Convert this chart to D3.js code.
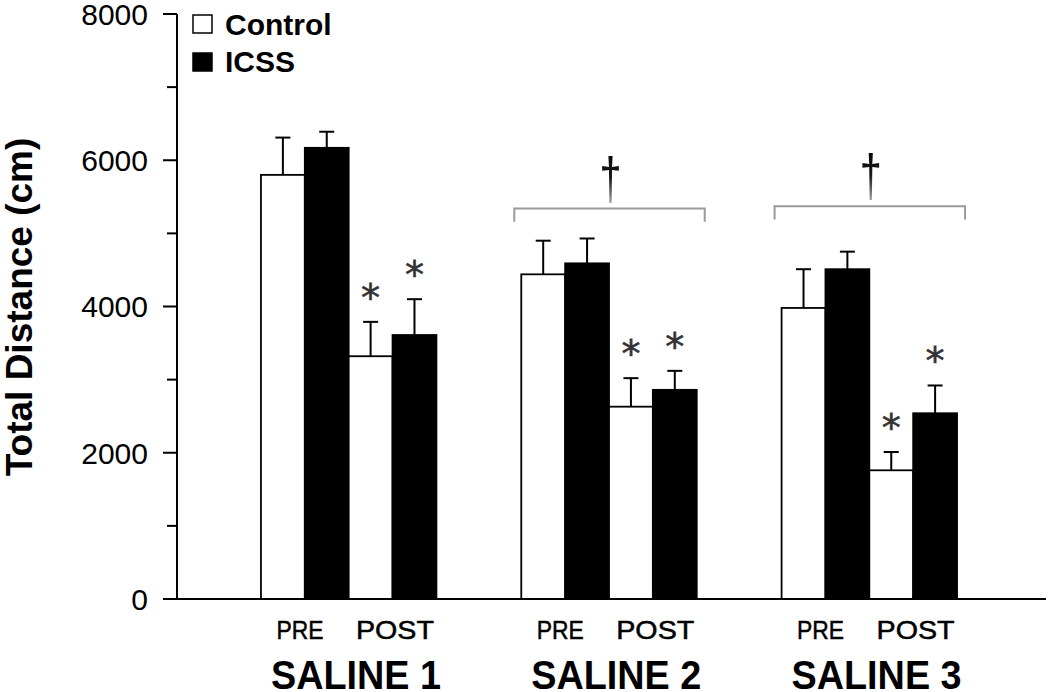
<!DOCTYPE html>
<html>
<head>
<meta charset="utf-8">
<script src="https://cdn.jsdelivr.net/npm/d3@7"></script>
<style>
  html, body { margin: 0; padding: 0; background: #fff; }
  svg { display: block; font-family: "Liberation Sans", Arial, sans-serif; }
</style>
</head>
<body>
<svg id="chart" width="1050" height="692"></svg>
<script>
// ---- data ----
const sessions = ["SALINE 1", "SALINE 2", "SALINE 3"];
const phases = ["PRE", "POST"];
const seriesNames = ["Control", "ICSS"];
// values per session: [PRE, POST]
const controlMean = [[5800, 3320], [4440, 2630], [3980, 1760]];
const controlErr  = [[510, 470], [460, 390], [530, 250]];
const icssMean    = [[6170, 3610], [4590, 2860], [4510, 2540]];
const icssErr     = [[220, 490], [340, 260], [240, 380]];
// significance vs PRE (asterisk) for [Control, ICSS] at POST
const postStar = [[true, true], [true, true], [true, true]];
// dagger bracket (value level) per session, null = none
const daggerLevel = [null, 5340, 5370];
const yTicks = [0, 2000, 4000, 6000, 8000];
const yMinorTicks = [1000, 3000, 5000, 7000];

// ---- layout ----
const svg = d3.select("#chart");
const x0 = 177, x1 = 1041, yBottom = 599, yTop = 14;

const y = d3.scaleLinear().domain([0, 8000]).range([yBottom, yTop]);
const xGroup = d3.scaleBand().domain(sessions).range([x0, x1])
  .paddingInner(0.326).paddingOuter(0.3225);
const slots = [];
phases.forEach(p => seriesNames.forEach(s => slots.push(p + "|" + s)));
const xSlot = d3.scaleBand().domain(slots).range([0, xGroup.bandwidth()]).padding(0);

// build bar records
const bars = [];
sessions.forEach((sess, gi) => {
  phases.forEach((ph, pi) => {
    bars.push({sess, ph, series: "Control", v: controlMean[gi][pi], e: controlErr[gi][pi],
               star: pi === 1 && postStar[gi][0]});
    bars.push({sess, ph, series: "ICSS", v: icssMean[gi][pi], e: icssErr[gi][pi],
               star: pi === 1 && postStar[gi][1]});
  });
});
const bx = d => xGroup(d.sess) + xSlot(d.ph + "|" + d.series);
const bw = xSlot.bandwidth();

// ---- defs (dagger gradient) ----
const defs = svg.append("defs");
const grad = defs.append("linearGradient").attr("id", "dagGrad")
  .attr("x1", 0).attr("y1", 0).attr("x2", 0).attr("y2", 1);
grad.append("stop").attr("offset", "0%").attr("stop-color", "#000");
grad.append("stop").attr("offset", "50%").attr("stop-color", "#1a1a1a");
grad.append("stop").attr("offset", "100%").attr("stop-color", "#d5d5d5");

// ---- bars ----
svg.append("g").selectAll("rect").data(bars).join("rect")
  .attr("x", d => bx(d))
  .attr("y", d => y(d.v))
  .attr("width", bw)
  .attr("height", d => y(0) - y(d.v))
  .attr("fill", d => d.series === "Control" ? "#fff" : "#000")
  .attr("stroke", "#000")
  .attr("stroke-width", 1.8);

// ---- error bars ----
const eg = svg.append("g").attr("stroke", "#000").attr("stroke-width", 2);
bars.forEach(d => {
  const cx = bx(d) + bw / 2;
  eg.append("line").attr("x1", cx).attr("x2", cx).attr("y1", y(d.v)).attr("y2", y(d.v + d.e));
  eg.append("line").attr("x1", cx - 7.5).attr("x2", cx + 7.5).attr("y1", y(d.v + d.e)).attr("y2", y(d.v + d.e));
});

// ---- asterisks ----
svg.append("g").selectAll("text").data(bars.filter(d => d.star)).join("text")
  .attr("x", d => bx(d) + bw / 2)
  .attr("y", d => y(d.v + d.e) - 11)
  .attr("text-anchor", "middle")
  .attr("font-family", "DejaVu Sans")
  .attr("font-size", 38)
  .attr("fill", "#333")
  .attr("stroke", "#333").attr("stroke-width", 0.6)
  .text("*");

// ---- dagger brackets ----
sessions.forEach((sess, gi) => {
  const lvl = daggerLevel[gi];
  if (lvl == null) return;
  const left = xGroup(sess) - 7, right = xGroup(sess) + xGroup.bandwidth() + 8;
  const yy = y(lvl), yEnd = y(lvl - 180);
  svg.append("path")
    .attr("d", `M${left},${yEnd}V${yy}H${right}V${yEnd}`)
    .attr("fill", "none").attr("stroke", "#9a9a9a").attr("stroke-width", 2);
  svg.append("text")
    .attr("transform", `translate(${(left + right) / 2 + 1},${yy - 10}) scale(0.9,1.35)`)
    .attr("text-anchor", "middle")
    .attr("font-size", 44)
    .attr("fill", "url(#dagGrad)")
    .text("†");
});

// ---- y axis ----
const yAxis = svg.append("g");
yAxis.append("line").attr("x1", x0).attr("x2", x0).attr("y1", y(8000)).attr("y2", y(0))
  .attr("stroke", "#000").attr("stroke-width", 2);
yAxis.selectAll("line.maj").data(yTicks).join("line").attr("class", "maj")
  .attr("x1", x0 - 14).attr("x2", x0).attr("y1", d => y(d)).attr("y2", d => y(d))
  .attr("stroke", "#000").attr("stroke-width", 2);
yAxis.selectAll("line.min").data(yMinorTicks).join("line").attr("class", "min")
  .attr("x1", x0 - 10).attr("x2", x0).attr("y1", d => y(d)).attr("y2", d => y(d))
  .attr("stroke", "#000").attr("stroke-width", 2);
yAxis.selectAll("text").data(yTicks).join("text")
  .attr("x", 148).attr("y", d => y(d)).attr("dy", "0.36em")
  .attr("text-anchor", "end").attr("font-size", 30).attr("fill", "#000")
  .text(d => d);

// x baseline
svg.append("line").attr("x1", x0).attr("x2", 1046).attr("y1", y(0)).attr("y2", y(0))
  .attr("stroke", "#000").attr("stroke-width", 2);

// y label
svg.append("text")
  .attr("transform", `translate(32,${307}) rotate(-90)`)
  .attr("text-anchor", "middle").attr("font-size", 37).attr("font-weight", "bold")
  .text("Total Distance (cm)");

// ---- x labels ----
sessions.forEach(sess => {
  const gx = xGroup(sess);
  svg.append("text").attr("x", gx + 39).attr("y", 639)
    .attr("text-anchor", "middle").attr("font-size", 25)
    .attr("textLength", 47).attr("lengthAdjust", "spacingAndGlyphs")
    .attr("stroke", "#000").attr("stroke-width", 0.5)
    .text(phases[0]);
  svg.append("text").attr("x", gx + 134).attr("y", 639)
    .attr("text-anchor", "middle").attr("font-size", 25)
    .attr("textLength", 78).attr("lengthAdjust", "spacingAndGlyphs")
    .attr("stroke", "#000").attr("stroke-width", 0.5)
    .text(phases[1]);
  svg.append("text").attr("x", gx + 95).attr("y", 689)
    .attr("text-anchor", "middle").attr("font-size", 40).attr("font-weight", "bold")
    .attr("textLength", 170).attr("lengthAdjust", "spacingAndGlyphs")
    .text(sess);
});

// ---- legend ----
const legend = svg.append("g");
seriesNames.forEach((s, i) => {
  legend.append("rect").attr("x", 193).attr("y", 15 + i * 38).attr("width", 19).attr("height", 18)
    .attr("fill", s === "Control" ? "#fff" : "#000").attr("stroke", "#000").attr("stroke-width", 1.5);
  legend.append("text").attr("x", 225).attr("y", 35 + i * 37)
    .attr("font-size", 30).attr("font-weight", "bold").text(s);
});
</script>
</body>
</html>
